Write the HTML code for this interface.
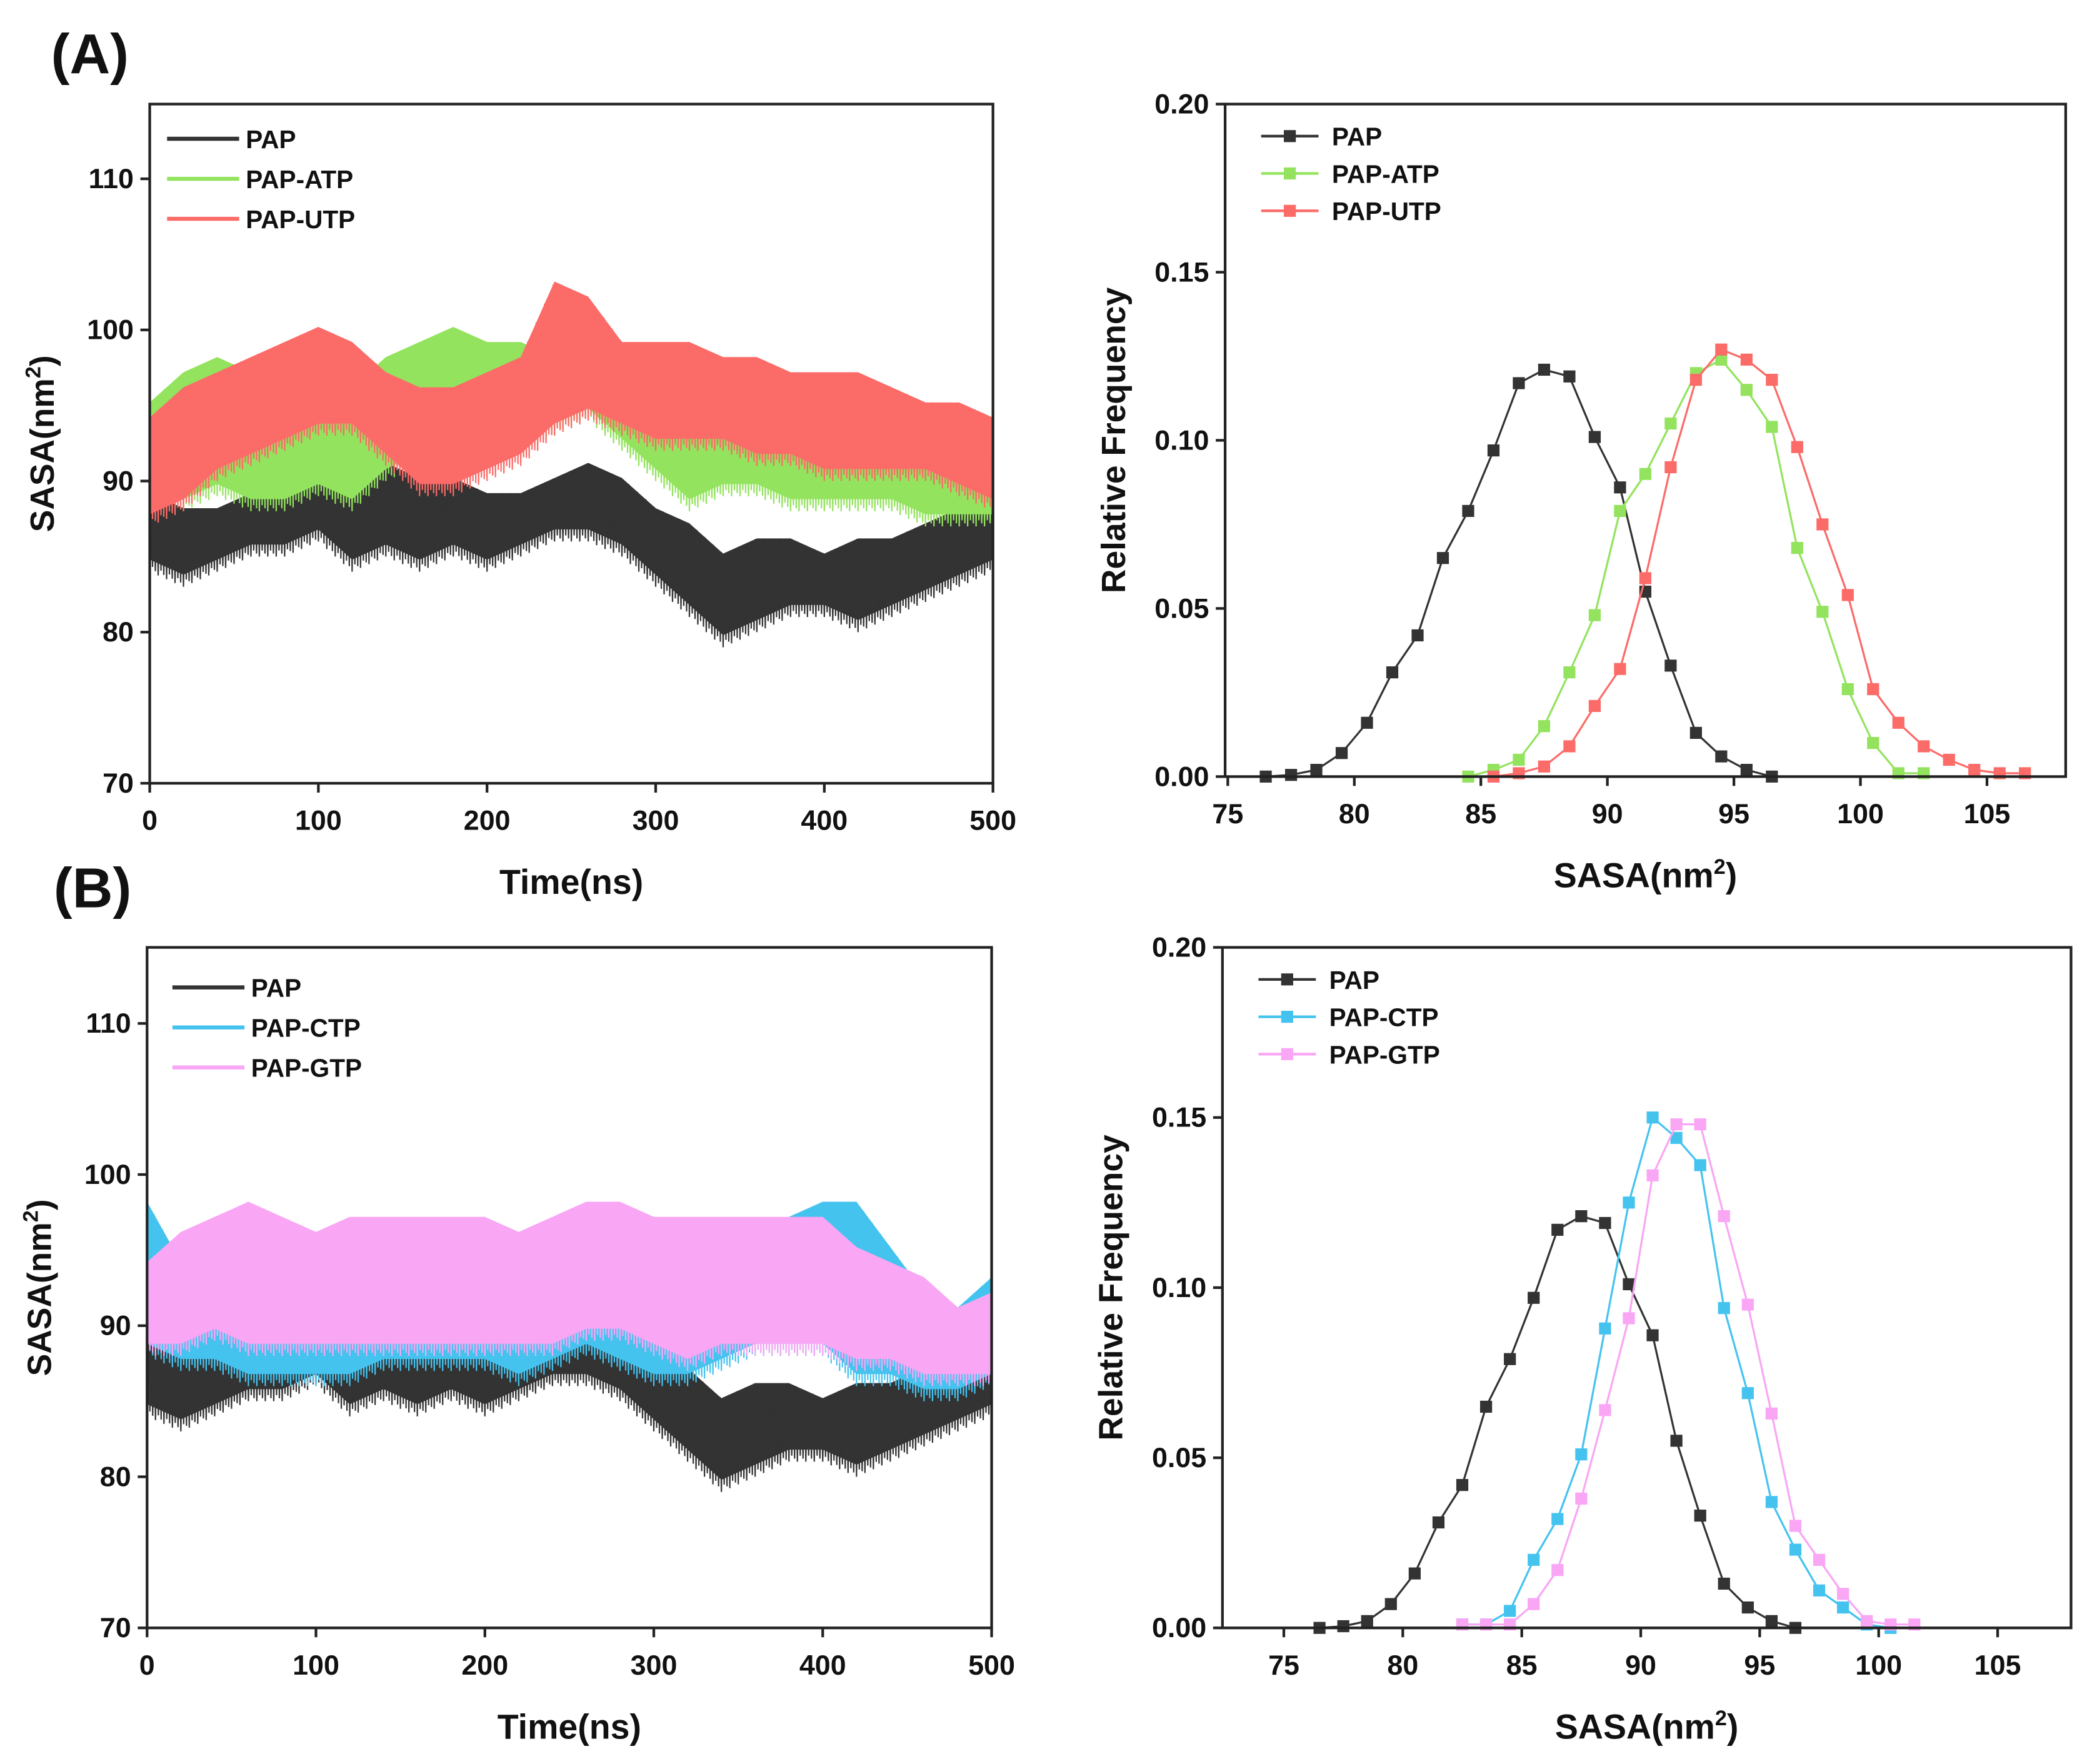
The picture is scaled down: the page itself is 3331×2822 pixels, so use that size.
<!DOCTYPE html>
<html><head><meta charset="utf-8"><style>
body{margin:0;background:#fff}
svg{display:block}
text{font-family:"Liberation Sans",Arial,sans-serif;font-weight:bold;fill:#111}
</style></head><body>
<svg id="fig" xmlns="http://www.w3.org/2000/svg" width="3331" height="2822" viewBox="0 0 1560 1322">
<text x="38" y="55" font-size="42">(A)</text>
<text x="40" y="680" font-size="42">(B)</text>
</svg>
<script>
// ---- time series data (min/max envelopes every 20 ns) ----
const times=[0,20,40,60,80,100,120,140,160,180,200,220,240,260,280,300,320,340,360,380,400,420,440,460,480,500];
const papMin=[84,83,84,85,85,86,84,85,84,85,84,85,86,86,85,83,81,79,80,81,81,80,81,82,83,84];
const papMax=[90,89,89,90,91,92,92,92,91,91,90,90,91,92,91,89,88,86,87,87,86,87,87,88,89,89];
const atpMin=[88,88,89,88,88,89,88,90,91,93,91,92,93,94,92,90,88,89,89,88,88,88,88,87,87,87];
const atpMax=[96,98,99,98,96,97,97,99,100,101,100,100,99,100,98,97,95,96,96,95,95,96,95,94,94,92];
const utpMin=[87,88,90,91,92,93,93,91,89,89,90,91,93,94,93,92,92,92,91,91,90,90,90,90,89,88];
const utpMax=[95,97,98,99,100,101,100,98,97,97,98,99,104,103,100,100,100,99,99,98,98,98,97,96,96,95];
const ctpMin=[88,87,87,86,86,86,86,87,87,87,87,86,87,88,87,86,86,87,88,88,88,86,86,85,85,86];
const ctpMax=[99,95,94,94,93,95,94,94,94,95,95,95,95,95,94,94,93,95,97,98,99,99,96,93,92,94];
const gtpMin=[88,88,89,88,88,88,88,88,88,88,88,88,88,89,89,88,87,88,88,88,88,87,87,86,86,86];
const gtpMax=[95,97,98,99,98,97,98,98,98,98,98,97,98,99,99,98,98,98,98,98,98,96,95,94,92,93];
const timeTicks=[0,100,200,300,400,500];
const sasaTicks=[70,80,90,100,110];
// ---- histogram data ----
const papX=[76.5,77.5,78.5,79.5,80.5,81.5,82.5,83.5,84.5,85.5,86.5,87.5,88.5,89.5,90.5,91.5,92.5,93.5,94.5,95.5,96.5];
const papY=[0,0.0005,0.002,0.007,0.016,0.031,0.042,0.065,0.079,0.097,0.117,0.121,0.119,0.101,0.086,0.055,0.033,0.013,0.006,0.002,0];
const atpX=[84.5,85.5,86.5,87.5,88.5,89.5,90.5,91.5,92.5,93.5,94.5,95.5,96.5,97.5,98.5,99.5,100.5,101.5,102.5];
const atpY=[0,0.002,0.005,0.015,0.031,0.048,0.079,0.090,0.105,0.120,0.124,0.115,0.104,0.068,0.049,0.026,0.010,0.001,0.001];
const utpX=[85.5,86.5,87.5,88.5,89.5,90.5,91.5,92.5,93.5,94.5,95.5,96.5,97.5,98.5,99.5,100.5,101.5,102.5,103.5,104.5,105.5,106.5];
const utpY=[0,0.001,0.003,0.009,0.021,0.032,0.059,0.092,0.118,0.127,0.124,0.118,0.098,0.075,0.054,0.026,0.016,0.009,0.005,0.002,0.001,0.001];
const ctpX=[82.5,83.5,84.5,85.5,86.5,87.5,88.5,89.5,90.5,91.5,92.5,93.5,94.5,95.5,96.5,97.5,98.5,99.5,100.5];
const ctpY=[0.001,0.001,0.005,0.02,0.032,0.051,0.088,0.125,0.15,0.144,0.136,0.094,0.069,0.037,0.023,0.011,0.006,0.001,0];
const gtpX=[82.5,83.5,84.5,85.5,86.5,87.5,88.5,89.5,90.5,91.5,92.5,93.5,94.5,95.5,96.5,97.5,98.5,99.5,100.5,101.5];
const gtpY=[0.001,0.001,0.001,0.007,0.017,0.038,0.064,0.091,0.133,0.148,0.148,0.121,0.095,0.063,0.03,0.02,0.01,0.002,0.001,0.001];
const freqTicks=[0,0.05,0.10,0.15,0.20];
const histTicksA=[75,80,85,90,95,100,105];

const C={pap:'#333333',atp:'#93e35e',utp:'#fb6b68',ctp:'#45c3ef',gtp:'#f9a6f5'};
const svg=document.getElementById('fig');
const NS='http://www.w3.org/2000/svg';
function mk(tag,attrs,parent){const e=document.createElementNS(NS,tag);for(const k in attrs)e.setAttribute(k,attrs[k]);(parent||svg).appendChild(e);return e;}
function txt(x,y,s,size,anchor,parent){const t=mk('text',{x:x,y:y,'font-size':size,'text-anchor':anchor||'start'},parent);t.textContent=s;return t;}

function axes(g,box,xs,ys,xt,yt,fmtY,xTitle,yTitle,sup){
  const r=mk('rect',{x:box.x0,y:box.y0,width:box.x1-box.x0,height:box.y1-box.y0,fill:'none',stroke:'#222','stroke-width':2},g);
  
  xt.forEach(v=>{const x=xs(v);mk('line',{x1:x,x2:x,y1:box.y1,y2:box.y1+7,stroke:'#222','stroke-width':2},g);
    const t=txt(x,box.y1+35,String(v),21,'middle',g);});
  yt.forEach(v=>{const y=ys(v);mk('line',{x1:box.x0-7,x2:box.x0,y1:y,y2:y,stroke:'#222','stroke-width':2},g);
    const t=txt(box.x0-12,y+7,fmtY(v),21,'end',g);});
  const xtl=txt((box.x0+box.x1)/2,box.y1+83,xTitle,26,'middle',g);
  
  if(sup){const ts=mk('tspan',{dy:-10,'font-size':16},xtl);ts.textContent='2';const t2=mk('tspan',{dy:10},xtl);t2.textContent=')';}
  const cy=(box.y0+box.y1)/2;
  const ytl=mk('text',{x:0,y:0,'font-size':25,'text-anchor':'middle',transform:`translate(${box.x0-yTitle.off},${cy}) rotate(-90)`},g);
  ytl.textContent=yTitle.s;
  if(yTitle.sup){const ts=mk('tspan',{dy:-10,'font-size':16},ytl);ts.textContent='2';const t2=mk('tspan',{dy:10},ytl);t2.textContent=')';}
}

function timePanel(box,series,legendX,legendY,name){
  const g=mk('g',{});
  const xs=v=>box.x0+(v/500)*(box.x1-box.x0);
  const ys=v=>box.y1-(v-70)/40*(box.y1-box.y110);
  series.forEach(s=>{
    let pts=[];
    times.forEach((t,i)=>pts.push(xs(t)+','+ys(s.max[i]-0.8)));
    for(let i=times.length-1;i>=0;i--)pts.push(xs(times[i])+','+ys(s.min[i]+0.8));
    const p=mk('polygon',{points:pts.join(' '),fill:s.color,stroke:'none'},g);
    
    let d='';const n=times.length-1;const steps=24;
    for(let i=0;i<n;i++){for(let k=0;k<steps;k++){const f=k/steps;const t=times[i]+(times[i+1]-times[i])*f;
      const lo=s.min[i]+(s.min[i+1]-s.min[i])*f, hi=s.max[i]+(s.max[i+1]-s.max[i])*f;
      const depth=[0,0.5,0.2,0.7,0.1,0.4][k%6];
      d+=(d?'L':'M')+xs(t)+','+ys(k%2?hi-depth*2:lo+depth*2);}}
    const l=mk('path',{d:d,fill:'none',stroke:s.color,'stroke-width':1},g);
    
  });
  axes(g,box,xs,ys,timeTicks,sasaTicks,v=>String(v),'Time(ns)',{s:'SASA(nm',sup:true,off:72},false);
  series.forEach((s,i)=>{const y=legendY+i*30;
    const le=mk('g',{},g);
    mk('line',{x1:legendX,x2:legendX+54,y1:y,y2:y,stroke:s.color,'stroke-width':3},le);
    txt(legendX+59,y+7,s.label,19,'start',le);});
}

function histPanel(box,series,legendY,name){
  const g=mk('g',{});
  const xs=v=>box.xa+(v-75)/30*(box.xb-box.xa);
  const ys=v=>box.y1-v/0.2*(box.y1-box.y0);
  series.forEach(s=>{
    const d=s.x.map((v,i)=>(i?'L':'M')+xs(v)+','+ys(s.y[i])).join('');
    const l=mk('path',{d:d,fill:'none',stroke:s.color,'stroke-width':1.5},g);
    
    s.x.forEach((v,i)=>{const m=mk('rect',{x:xs(v)-4.5,y:ys(s.y[i])-4.5,width:9,height:9,fill:s.color},g);
      });
  });
  axes(g,box,xs,ys,histTicksA,freqTicks,v=>v.toFixed(2),'SASA(nm',{s:'Relative Frequency',sup:false,off:75},true);
  series.forEach((s,i)=>{const y=legendY+i*28;const lx=box.x0+27;
    const le=mk('g',{},g);
    mk('line',{x1:lx,x2:lx+43,y1:y,y2:y,stroke:s.color,'stroke-width':2},le);
    mk('rect',{x:lx+17,y:y-4.5,width:9,height:9,fill:s.color},le);
    txt(lx+53,y+7,s.label,19,'start',le);});
}

timePanel({x0:112,x1:744,y0:78,y1:587,y110:134},[
  {key:'pap',label:'PAP',color:C.pap,min:papMin,max:papMax},
  {key:'atp',label:'PAP-ATP',color:C.atp,min:atpMin,max:atpMax},
  {key:'utp',label:'PAP-UTP',color:C.utp,min:utpMin,max:utpMax}],125,104,'panel-a-time-series');
timePanel({x0:110,x1:743,y0:710,y1:1220,y110:767},[
  {key:'pap',label:'PAP',color:C.pap,min:papMin,max:papMax},
  {key:'ctp',label:'PAP-CTP',color:C.ctp,min:ctpMin,max:ctpMax},
  {key:'gtp',label:'PAP-GTP',color:C.gtp,min:gtpMin,max:gtpMax}],129,740,'panel-b-time-series');
histPanel({x0:918,x1:1548,y0:78,y1:582,xa:920,xb:1489},[
  {key:'pap',label:'PAP',color:C.pap,x:papX,y:papY},
  {key:'atp',label:'PAP-ATP',color:C.atp,x:atpX,y:atpY},
  {key:'utp',label:'PAP-UTP',color:C.utp,x:utpX,y:utpY}],102,'panel-a-histogram');
histPanel({x0:916,x1:1552,y0:710,y1:1220,xa:962,xb:1497},[
  {key:'pap',label:'PAP',color:C.pap,x:papX,y:papY},
  {key:'ctp',label:'PAP-CTP',color:C.ctp,x:ctpX,y:ctpY},
  {key:'gtp',label:'PAP-GTP',color:C.gtp,x:gtpX,y:gtpY}],734,'panel-b-histogram');
</script>
</body></html>
